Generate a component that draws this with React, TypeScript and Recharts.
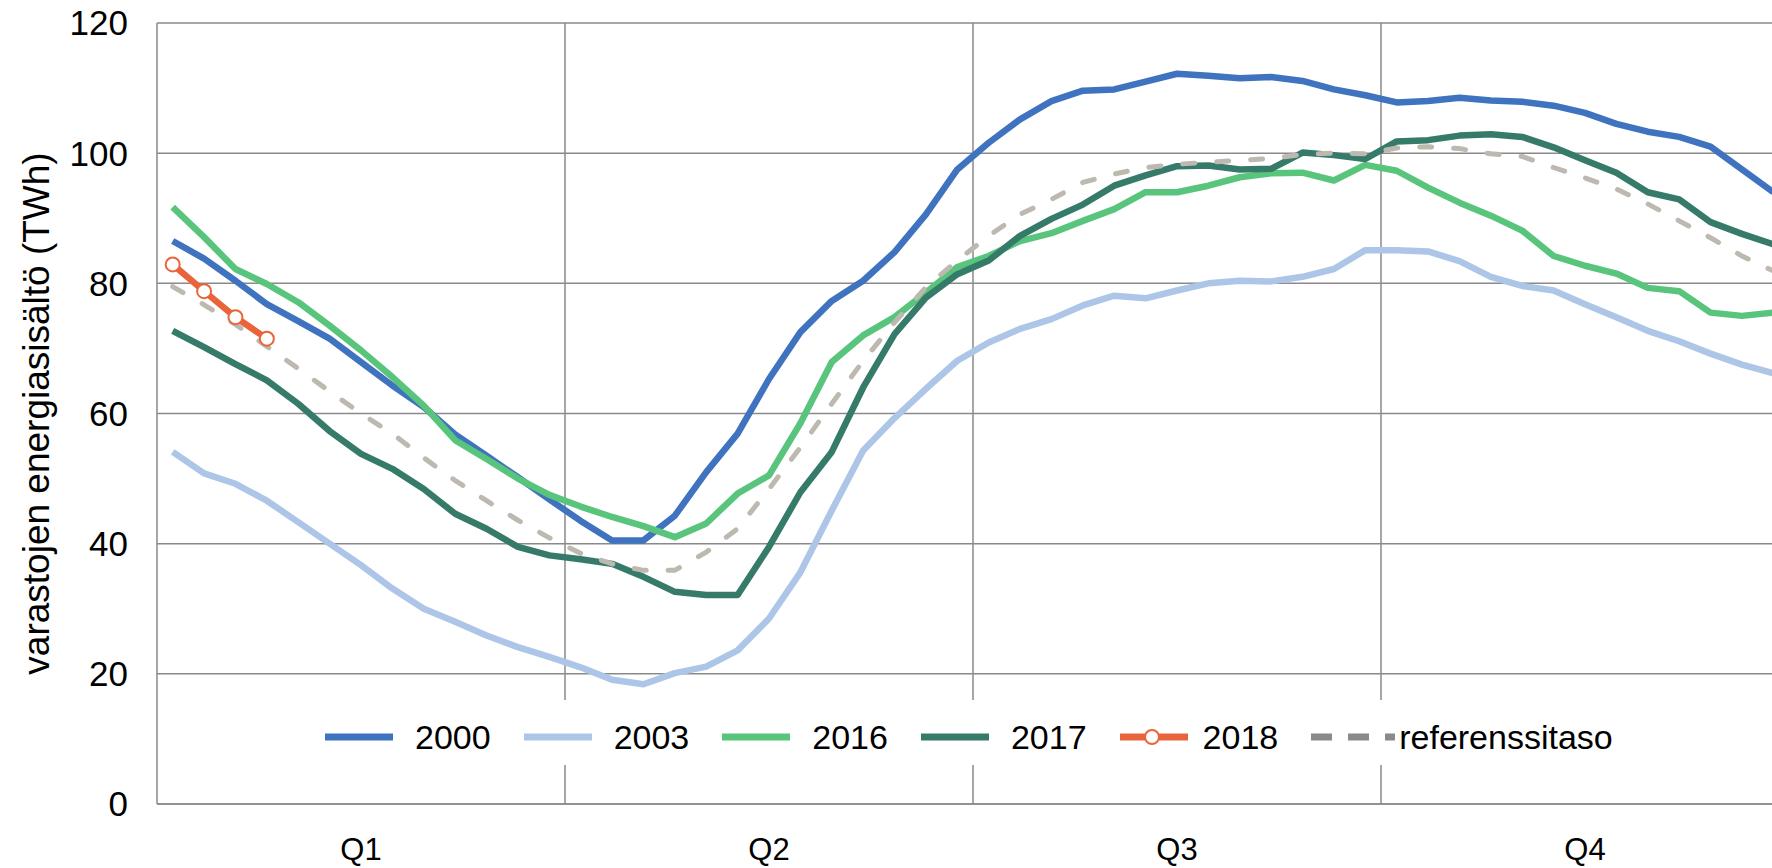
import React from 'react';
import { LineChart, Line, XAxis, YAxis, CartesianGrid, ReferenceLine, Legend } from 'recharts';

// weekly storage levels, 52 weeks per year
const WEEKS = [
  1, 2, 3, 4, 5, 6, 7, 8, 9, 10, 11, 12, 13,
  14, 15, 16, 17, 18, 19, 20, 21, 22, 23, 24, 25, 26,
  27, 28, 29, 30, 31, 32, 33, 34, 35, 36, 37, 38, 39,
  40, 41, 42, 43, 44, 45, 46, 47, 48, 49, 50, 51, 52,
];
const QUARTERS = ['Q1', 'Q2', 'Q3', 'Q4'];
const WEEKS_PER_QUARTER = 13;
const Y_TICKS = [0, 20, 40, 60, 80, 100, 120];

const S2000 = [
  86.5, 83.8, 80.4, 76.8, 74.2, 71.5, 67.9, 64.3, 61.0, 56.8, 53.5, 50.2, 46.8,
  43.5, 40.5, 40.5, 44.3, 51.0, 56.9, 65.3, 72.5, 77.3, 80.4, 84.8, 90.6, 97.5,
  101.6, 105.2, 108.0, 109.6, 109.8, 111.0, 112.2, 111.9, 111.5, 111.7, 111.1, 109.8, 108.9,
  107.8, 108.0, 108.5, 108.1, 107.9, 107.3, 106.2, 104.5, 103.3, 102.5, 101.0, 97.5, 94.0,
];
const S2003 = [
  54.1, 50.8, 49.2, 46.6, 43.3, 40.0, 36.7, 33.1, 30.0, 28.0, 25.9, 24.1, 22.6,
  21.0, 19.1, 18.4, 20.1, 21.1, 23.6, 28.5, 35.6, 45.1, 54.3, 59.3, 63.8, 68.1,
  70.9, 73.0, 74.5, 76.6, 78.1, 77.7, 78.9, 80.0, 80.4, 80.3, 81.0, 82.2, 85.1,
  85.1, 84.9, 83.4, 81.0, 79.6, 78.9, 76.8, 74.8, 72.7, 71.1, 69.2, 67.5, 66.2,
];
const S2016 = [
  91.7, 87.1, 82.2, 79.9, 77.1, 73.5, 69.7, 65.6, 61.2, 55.9, 53.0, 50.0, 47.5,
  45.7, 44.1, 42.7, 41.0, 43.1, 47.7, 50.5, 58.5, 67.9, 72.0, 74.8, 78.6, 82.5,
  84.2, 86.5, 87.7, 89.6, 91.4, 94.0, 94.0, 95.0, 96.3, 96.9, 97.0, 95.8, 98.2,
  97.3, 94.7, 92.4, 90.4, 88.1, 84.2, 82.7, 81.5, 79.3, 78.8, 75.5, 75.0, 75.5,
];
const S2017 = [
  72.7, 70.2, 67.6, 65.1, 61.5, 57.3, 53.8, 51.5, 48.4, 44.6, 42.3, 39.5, 38.2,
  37.6, 36.9, 34.9, 32.6, 32.1, 32.1, 39.5, 47.9, 54.1, 64.0, 72.2, 77.8, 81.4,
  83.5, 87.3, 89.9, 92.1, 95.0, 96.6, 98.0, 98.1, 97.5, 97.6, 100.1, 99.7, 99.1,
  101.8, 102.0, 102.7, 102.9, 102.5, 100.9, 98.9, 97.0, 94.0, 92.9, 89.4, 87.6, 86.0,
];
const S2018 = [82.9, 78.8, 74.8, 71.5];
const REF = [
  79.5, 76.7, 73.7, 70.3, 66.9, 63.4, 60.0, 56.9, 53.2, 49.7, 46.6, 43.6, 40.9,
  38.5, 36.9, 35.9, 35.9, 38.7, 42.3, 48.4, 54.8, 61.5, 68.1, 74.0, 79.4, 83.5,
  87.3, 90.6, 92.9, 95.5, 96.8, 97.8, 98.3, 98.6, 98.9, 99.2, 99.8, 100.0, 99.9,
  100.8, 101.0, 100.7, 99.9, 99.5, 97.8, 96.2, 94.5, 92.2, 89.6, 87.0, 84.2, 81.9,
];

const C2000 = '#3f73c0';
const C2003 = '#adc6e7';
const C2016 = '#59c47b';
const C2017 = '#367a69';
const C2018 = '#e9643a';
const CREF = '#bdb9b0';
const GRID = '#8a8a8a';

const data = WEEKS.map((w, i) => ({
  week: w,
  y2000: S2000[i],
  y2003: S2003[i],
  y2016: S2016[i],
  y2017: S2017[i],
  y2018: i < S2018.length ? S2018[i] : null,
  ref: REF[i],
}));

const quarterTicks = QUARTERS.map((_, q) => q * WEEKS_PER_QUARTER + 7);
const quarterBounds = QUARTERS.slice(1).map((_, q) => (q + 1) * WEEKS_PER_QUARTER + 0.5);

const LEGEND = [
  { name: '2000', color: C2000, kind: 'line', gap: 22 },
  { name: '2003', color: C2003, kind: 'line', gap: 22 },
  { name: '2016', color: C2016, kind: 'line', gap: 22 },
  { name: '2017', color: C2017, kind: 'line', gap: 22 },
  { name: '2018', color: C2018, kind: 'marker', gap: 15 },
  { name: 'referenssitaso', color: '#8a8a8a', kind: 'dash', gap: 4 },
];

const LegendBox = () => (
  <div
    style={{
      display: 'flex',
      alignItems: 'center',
      height: 65,
      paddingLeft: 25,
      paddingTop: 9,
      boxSizing: 'border-box',
      background: '#fff',
      fontSize: 34,
      color: '#000',
      lineHeight: 1,
    }}
  >
    {LEGEND.map((item) => {
      const w = item.kind === 'dash' ? 84 : 68;
      return (
        <div key={item.name} style={{ display: 'flex', alignItems: 'center', marginRight: 33 }}>
          <svg width={w} height={20} style={{ display: 'block' }}>
            <line
              x1={0}
              x2={w}
              y1={10}
              y2={10}
              stroke={item.color}
              strokeWidth={7}
              strokeDasharray={item.kind === 'dash' ? '21 16' : undefined}
            />
            {item.kind === 'marker' && (
              <circle cx={32} cy={10} r={7} fill="#fff" stroke={item.color} strokeWidth={2} />
            )}
          </svg>
          <span style={{ marginLeft: item.gap }}>{item.name}</span>
        </div>
      );
    })}
  </div>
);

export default function App() {
  return (
    <div
      style={{
        position: 'absolute',
        left: 0,
        top: 0,
        width: 1772,
        height: 868,
        overflow: 'hidden',
        background: '#fff',
        fontFamily: "'Liberation Sans', Arial, sans-serif",
      }}
    >
      <LineChart width={1790} height={868} data={data} margin={{ top: 23, right: 1, left: 0, bottom: 0 }}>
        <CartesianGrid vertical={false} stroke={GRID} strokeWidth={1.5} />
        {quarterBounds.map((x) => (
          <ReferenceLine key={x} x={x} stroke={GRID} strokeWidth={1.5} />
        ))}
        <XAxis
          dataKey="week"
          type="number"
          domain={[0.5, 52.5]}
          ticks={quarterTicks}
          tickFormatter={(v: number) => QUARTERS[Math.floor((v - 1) / WEEKS_PER_QUARTER)]}
          axisLine={{ stroke: GRID, strokeWidth: 1.5 }}
          tickLine={false}
          tickMargin={28}
          height={64}
          tick={{ fontSize: 31, fill: '#000' }}
        />
        <YAxis
          domain={[0, 120]}
          ticks={Y_TICKS}
          width={157}
          axisLine={{ stroke: GRID, strokeWidth: 1.5 }}
          tickLine={false}
          tickMargin={23}
          tick={{ fontSize: 35, fill: '#000' }}
          label={{
            value: 'varastojen energiasisältö (TWh)',
            angle: -90,
            position: 'insideLeft',
            offset: 36,
            style: { textAnchor: 'middle', fontSize: 37, fill: '#000' },
          }}
        />
        <Legend
          content={() => <LegendBox />}
          layout="horizontal"
          verticalAlign="middle"
          align="center"
          wrapperStyle={{ left: 300, top: 700, width: 1340, height: 65 }}
        />
        <Line dataKey="y2000" name="2000" stroke={C2000} strokeWidth={6.5} dot={false} isAnimationActive={false} strokeLinejoin="round" />
        <Line dataKey="y2003" name="2003" stroke={C2003} strokeWidth={6.5} dot={false} isAnimationActive={false} strokeLinejoin="round" />
        <Line dataKey="y2016" name="2016" stroke={C2016} strokeWidth={6.5} dot={false} isAnimationActive={false} strokeLinejoin="round" />
        <Line dataKey="y2017" name="2017" stroke={C2017} strokeWidth={6.5} dot={false} isAnimationActive={false} strokeLinejoin="round" />
        <Line
          dataKey="ref"
          name="referenssitaso"
          stroke={CREF}
          strokeWidth={5}
          strokeDasharray="12 22"
          strokeLinecap="round"
          dot={false}
          isAnimationActive={false}
        />
        <Line
          dataKey="y2018"
          name="2018"
          stroke={C2018}
          strokeWidth={6.5}
          dot={{ r: 7, fill: '#fff', stroke: C2018, strokeWidth: 2 }}
          isAnimationActive={false}
        />
      </LineChart>
    </div>
  );
}
